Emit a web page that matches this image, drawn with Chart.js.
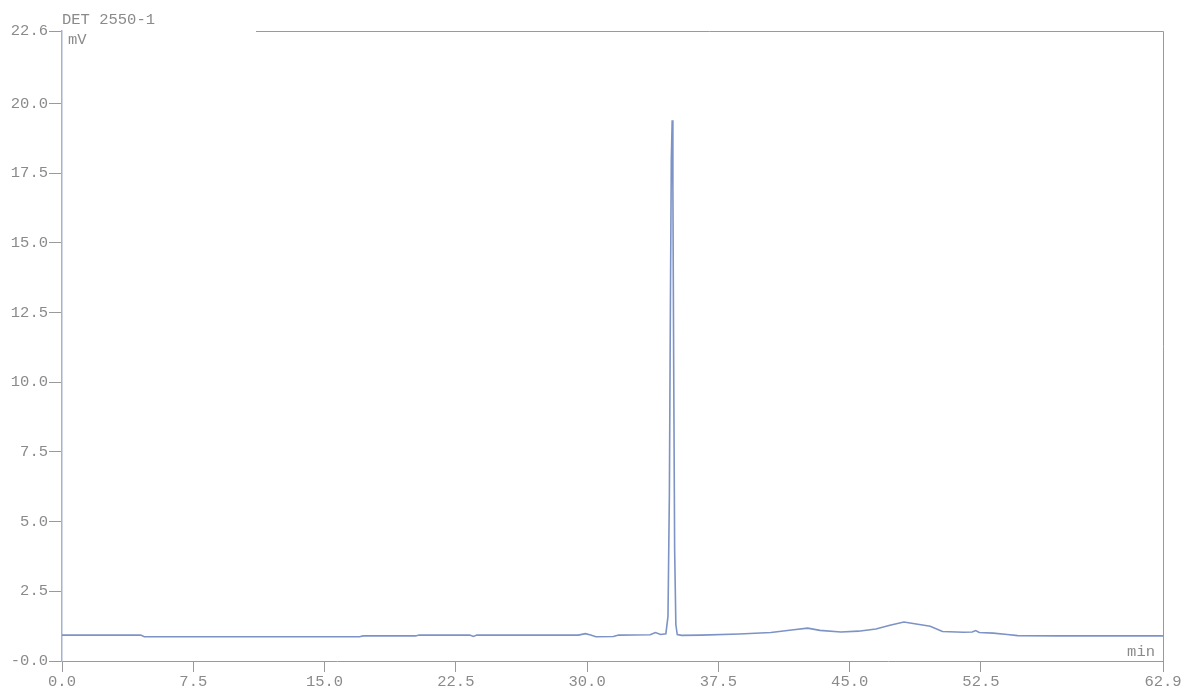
<!DOCTYPE html>
<html>
<head>
<meta charset="utf-8">
<script src="https://cdn.jsdelivr.net/npm/chart.js@4/dist/chart.umd.min.js"></script>
<style>
  html, body { margin: 0; padding: 0; background: #ffffff; }
  #wrap { width: 1185px; height: 694px; }
</style>
</head>
<body>
<div id="wrap"><canvas id="chrom" width="1185" height="694"></canvas></div>
<script>
// retention time (min) and detector signal (mV)
const TIMES = [0, 4.5, 4.7, 17.0, 17.2, 20.2, 20.4, 23.3, 23.5, 23.7, 29.5, 29.9, 30.2, 30.5, 31.5, 31.8,
  33.6, 33.9, 34.2, 34.5, 34.62, 34.7, 34.76, 34.81, 34.86, 34.9, 34.95, 35.0, 35.07, 35.15, 35.4,
  36.5, 38.7, 40.5, 41.8, 42.6, 43.3, 44.5, 45.5, 46.5, 47.3, 48.1, 48.8, 49.6, 50.3, 51.5, 52.0,
  52.2, 52.4, 53.2, 54.0, 54.6, 57.0, 60.0, 62.9];
const SIGNAL = [0.93, 0.93, 0.87, 0.87, 0.90, 0.90, 0.93, 0.93, 0.88, 0.93, 0.93, 0.98, 0.93, 0.87, 0.88, 0.93,
  0.94, 1.02, 0.95, 0.98, 1.6, 6, 13, 18, 19.4, 17, 10, 4, 1.3, 0.95, 0.92,
  0.93, 0.97, 1.02, 1.12, 1.18, 1.1, 1.04, 1.07, 1.15, 1.28, 1.40, 1.33, 1.25, 1.06, 1.03, 1.04,
  1.09, 1.02, 1.0, 0.95, 0.91, 0.9, 0.9, 0.9];

const X_TICKS = [0, 7.5, 15, 22.5, 30, 37.5, 45, 52.5, 62.9];
const X_LABELS = ['0.0', '7.5', '15.0', '22.5', '30.0', '37.5', '45.0', '52.5', '62.9'];
const Y_TICKS = [0, 2.5, 5, 7.5, 10, 12.5, 15, 17.5, 20, 22.6];
const Y_LABELS = ['-0.0', '2.5', '5.0', '7.5', '10.0', '12.5', '15.0', '17.5', '20.0', '22.6'];

const FONT = "'Liberation Mono', 'DejaVu Sans Mono', monospace";
const TEXT = '#8a8a8a';
const AXIS = '#9a9a9a';

// frame + labels that sit inside the plot
const framePlugin = {
  id: 'frame',
  afterDraw(chart) {
    const { ctx, chartArea: a } = chart;
    ctx.save();
    ctx.strokeStyle = AXIS;
    ctx.lineWidth = 1;
    ctx.beginPath();
    ctx.moveTo(a.left + 194, a.top + 0.5);
    ctx.lineTo(a.right + 0.5, a.top + 0.5);
    ctx.lineTo(a.right + 0.5, a.bottom);
    ctx.stroke();

    ctx.fillStyle = TEXT;
    ctx.font = '15.5px ' + FONT;
    ctx.textBaseline = 'middle';
    ctx.textAlign = 'left';
    ctx.fillText('DET 2550-1', a.left, a.top - 11);
    ctx.fillText('mV', a.left + 6, a.top + 9);
    ctx.textAlign = 'right';
    ctx.fillText('min', a.right - 8, a.bottom - 9);
    ctx.restore();
  }
};

new Chart(document.getElementById('chrom'), {
  type: 'line',
  data: {
    datasets: [{
      data: TIMES.map((t, i) => ({ x: t, y: SIGNAL[i] })),
      borderColor: '#7d93c6',
      borderWidth: 1.6,
      pointRadius: 0,
      tension: 0,
      fill: false
    }]
  },
  options: {
    responsive: false,
    animation: false,
    layout: { padding: { top: 31, right: 22, left: 0, bottom: 0 } },
    plugins: { legend: { display: false }, tooltip: { enabled: false } },
    scales: {
      x: {
        type: 'linear',
        min: 0,
        max: 62.9,
        afterBuildTicks: s => { s.ticks = X_TICKS.map(v => ({ value: v })); },
        afterFit: s => { s.height = 33; },
        ticks: {
          autoSkip: false,
          maxRotation: 0,
          color: TEXT,
          padding: 1,
          font: { family: FONT, size: 15.5 },
          callback: (v, i) => X_LABELS[i]
        },
        grid: { drawOnChartArea: false, drawTicks: true, tickLength: 11, color: AXIS },
        border: { display: true, color: AXIS, width: 1 }
      },
      y: {
        type: 'linear',
        min: 0,
        max: 22.6,
        afterBuildTicks: s => { s.ticks = Y_TICKS.map(v => ({ value: v })); },
        afterFit: s => { s.width = 62; },
        ticks: {
          autoSkip: false,
          color: TEXT,
          padding: 1,
          font: { family: FONT, size: 15.5 },
          callback: (v, i) => Y_LABELS[i]
        },
        grid: { drawOnChartArea: false, drawTicks: true, tickLength: 13, color: AXIS },
        border: { display: true, color: '#a3b1d2', width: 1.5 }
      }
    }
  },
  plugins: [framePlugin]
});
</script>
</body>
</html>
